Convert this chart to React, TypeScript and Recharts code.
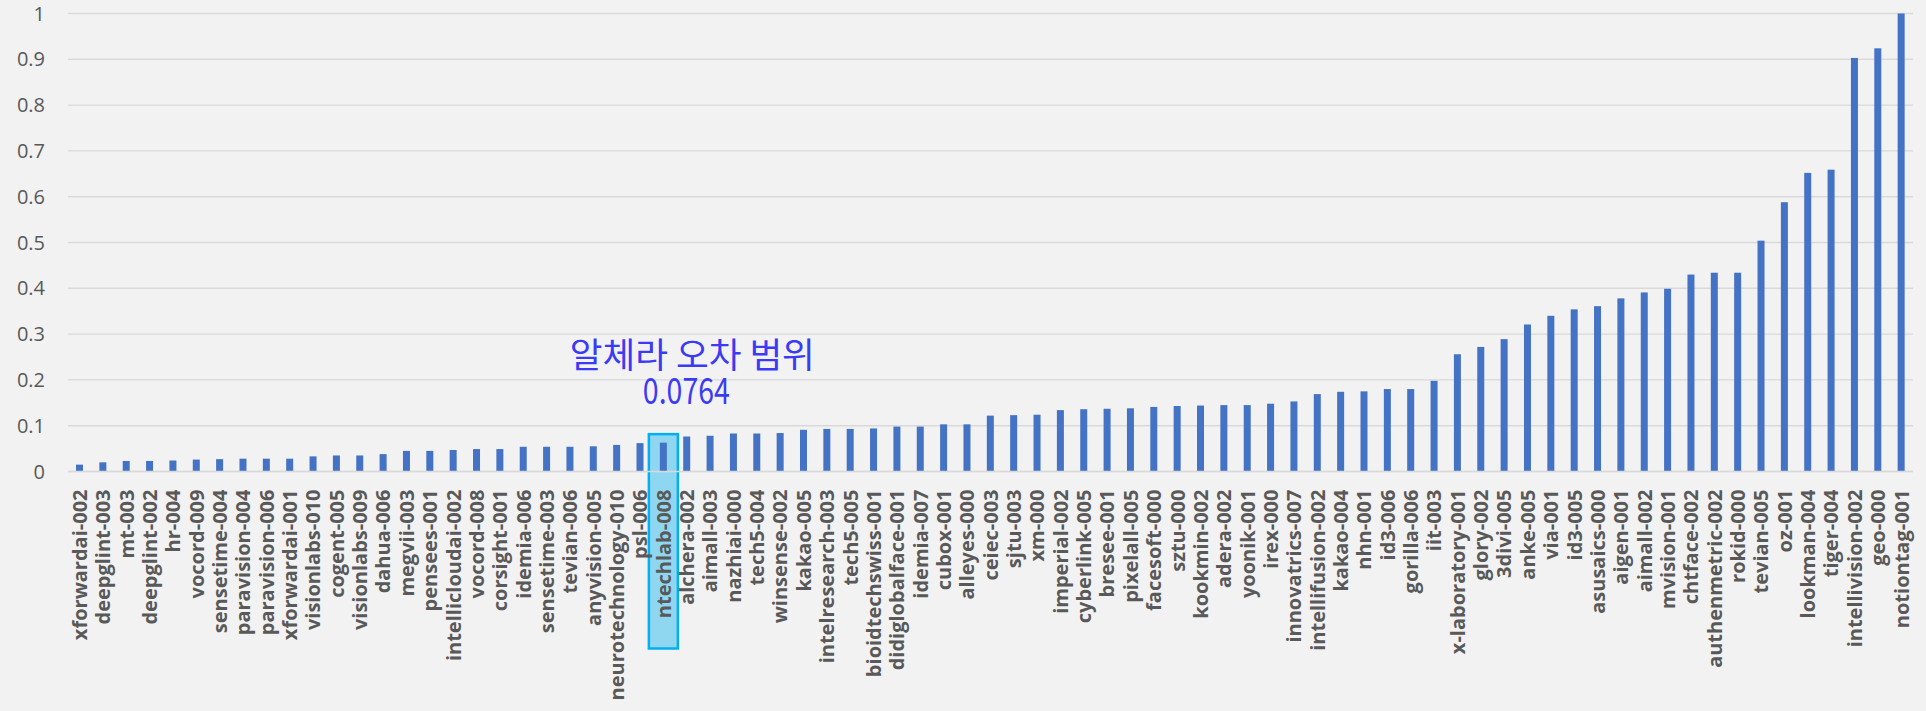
import React from "react";
import { BarChart, Bar, XAxis, YAxis, CartesianGrid } from "recharts";

const categories = [
  "xforwardai-002", "deepglint-003", "mt-003", "deepglint-002", "hr-004", "vocord-009",
  "sensetime-004", "paravision-004", "paravision-006", "xforwardai-001", "visionlabs-010",
  "cogent-005", "visionlabs-009", "dahua-006", "megvii-003", "pensees-001",
  "intellicloudai-002", "vocord-008", "corsight-001", "idemia-006", "sensetime-003",
  "tevian-006", "anyvision-005", "neurotechnology-010", "psl-006", "ntechlab-008",
  "alchera-002", "aimall-003", "nazhiai-000", "tech5-004", "winsense-002", "kakao-005",
  "intelresearch-003", "tech5-005", "bioidtechswiss-001", "didiglobalface-001", "idemia-007",
  "cubox-001", "alleyes-000", "ceiec-003", "sjtu-003", "xm-000", "imperial-002",
  "cyberlink-005", "bresee-001", "pixelall-005", "facesoft-000", "sztu-000", "kookmin-002",
  "adera-002", "yoonik-001", "irex-000", "innovatrics-007", "intellifusion-002", "kakao-004",
  "nhn-001", "id3-006", "gorilla-006", "iit-003", "x-laboratory-001", "glory-002",
  "3divi-005", "anke-005", "via-001", "id3-005", "asusaics-000", "aigen-001", "aimall-002",
  "mvision-001", "chtface-002", "authenmetric-002", "rokid-000", "tevian-005", "oz-001",
  "lookman-004", "tiger-004", "intellivision-002", "geo-000", "notiontag-001",
];

const errorRates = [
  0.015, 0.02, 0.023, 0.023, 0.024, 0.026, 0.027, 0.028, 0.028, 0.028, 0.033, 0.035,
  0.035, 0.038, 0.045, 0.045, 0.047, 0.049, 0.049, 0.054, 0.054, 0.054, 0.055, 0.058,
  0.062, 0.063, 0.0764, 0.078, 0.083, 0.083, 0.084, 0.091, 0.093, 0.093, 0.094, 0.098,
  0.098, 0.103, 0.103, 0.122, 0.123, 0.124, 0.134, 0.136, 0.137, 0.138, 0.141, 0.143,
  0.144, 0.145, 0.145, 0.148, 0.153, 0.169, 0.174, 0.175, 0.18, 0.18, 0.198, 0.256,
  0.272, 0.289, 0.321, 0.34, 0.354, 0.361, 0.378, 0.391, 0.399, 0.43, 0.434, 0.434,
  0.504, 0.588, 0.652, 0.659, 0.903, 0.924, 1.0,
];

const yTicks = [0, 0.1, 0.2, 0.3, 0.4, 0.5, 0.6, 0.7, 0.8, 0.9, 1];

const highlighted = "ntechlab-008";
const noteTitle = "알체라 오차 범위";
const noteValue = "0.0764";

const data = categories.map((name, i) => ({ name, value: errorRates[i] }));

const XTick = (props: any) => {
  const { x, y, payload } = props;
  return (
    <text
      x={x}
      y={y}
      transform={`rotate(-90 ${x} ${y})`}
      textAnchor="end"
      dy="0.36em"
      fill="#595959"
      fontSize={20}
      fontWeight={700}
      fontFamily="'Open Sans', sans-serif"
    >
      {payload.value}
    </text>
  );
};

const BarShape = (props: any) => {
  const { x, y, width, height, payload } = props;
  const hi = payload && payload.name === highlighted;
  const cx = x + width / 2;
  const base = y + height;
  return (
    <g>
      {hi && (
        <rect
          x={cx - 14.5}
          y={y - 8.5}
          width={29}
          height={height + 8.5 + 177}
          fill="#8fd7f1"
          stroke="#00b0f0"
          strokeWidth={2.5}
        />
      )}
      <rect x={x} y={y} width={width} height={height} fill="#4472c4" />
      {hi && (
        <g fill="#3b3bf5" fontFamily="'Noto Sans CJK KR', sans-serif" fontSize={35} textAnchor="middle">
          <text
            x={cx + 29}
            y={base - 119.5}
            dominantBaseline="central"
            textLength={245}
            lengthAdjust="spacingAndGlyphs"
          >
            {noteTitle}
          </text>
          <text
            x={cx + 23}
            y={base - 83.5}
            dominantBaseline="central"
            fontSize={36}
            textLength={87}
            lengthAdjust="spacingAndGlyphs"
          >
            {noteValue}
          </text>
        </g>
      )}
    </g>
  );
};

export default function App() {
  return (
    <div
      style={{
        position: "absolute",
        left: 0,
        top: 0,
        width: 1926,
        height: 711,
        background: "#f2f2f2",
        fontFamily: "'Open Sans', sans-serif",
      }}
    >
      <BarChart
        width={1926}
        height={711}
        data={data}
        margin={{ top: 13.5, right: 13, bottom: 0, left: 0 }}
        barSize={7}
      >
        <CartesianGrid vertical={false} stroke="#d9d9d9" strokeWidth={1.4} />
        <YAxis
          type="number"
          domain={[0, 1]}
          ticks={yTicks}
          width={68}
          axisLine={false}
          tickLine={false}
          tickSize={0}
          tickMargin={23}
          tick={{ fontSize: 20, fill: "#595959" }}
          tickFormatter={(v: number) => String(Math.round(v * 10) / 10)}
        />
        <Bar dataKey="value" isAnimationActive={false} shape={BarShape} />
        <XAxis
          dataKey="name"
          interval={0}
          height={239.5}
          axisLine={{ stroke: "#d9d9d9", strokeWidth: 1.4 }}
          tickLine={false}
          tickSize={0}
          tickMargin={18}
          tick={<XTick />}
        />
      </BarChart>
    </div>
  );
}
